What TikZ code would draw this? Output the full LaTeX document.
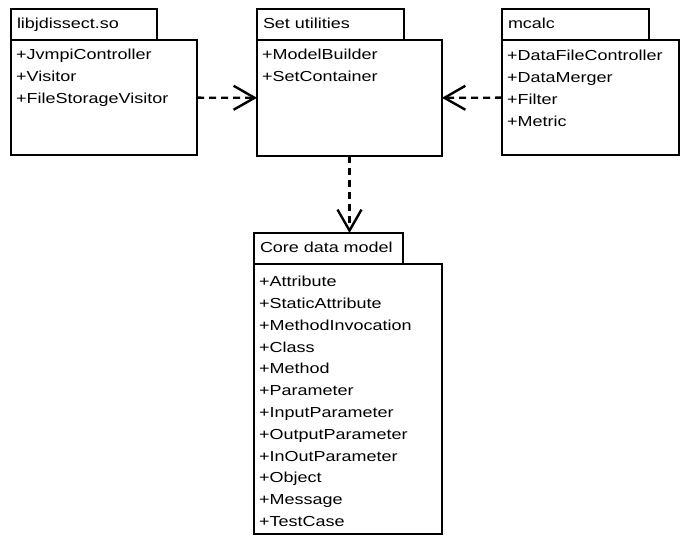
\documentclass[tikz,border=0pt]{standalone}
\usepackage{fontspec}
\setmainfont[FakeStretch=1.24]{Liberation Sans}
\usetikzlibrary{positioning,arrows.meta}
\tikzstyle{pkgTab}=[draw,line width=2.4pt,rectangle,anchor=north west,outer sep=0pt,inner xsep=6pt,inner ysep=0pt,minimum height=31pt,text height=10pt,text depth=3pt,align=left,font=\fontsize{14.5}{22}\selectfont]
\tikzstyle{pkgBody}=[draw,line width=2.4pt,rectangle,anchor=north west,outer sep=0pt,inner sep=0pt]
\tikzstyle{pkgItems}=[anchor=north west,inner sep=0pt,align=left,font=\fontsize{14.5}{21.8}\selectfont]
\tikzstyle{dependency}=[line width=2.4pt,dash pattern=on 7pt off 5pt,-{Straight Barb[length=21pt,width=24pt,line width=2.4pt]}]

\begin{document}
\begin{tikzpicture}[x=1pt,y=-1pt]
	\useasboundingbox (0,0) rectangle (680,536);

	% packages
	\node[pkgTab, text width=134pt] (libTab) at (11, 9) {libjdissect.so};
	\node[pkgBody, minimum width=186pt, minimum height=115pt] (libBody) at (libTab.south west) {};
	\node[pkgItems] (libItems) at ([shift={(5,9)}]libBody.north west) {+JvmpiController\\ +Visitor\\ +FileStorageVisitor};

	\node[pkgTab, text width=135pt] (setTab) at (257, 9) {Set utilities};
	\node[pkgBody, minimum width=185pt, minimum height=116pt] (setBody) at (setTab.south west) {};
	\node[pkgItems] (setItems) at ([shift={(5,9)}]setBody.north west) {+ModelBuilder\\ +SetContainer};

	\node[pkgTab, text width=135pt] (calcTab) at (502, 9) {mcalc};
	\node[pkgBody, minimum width=177pt, minimum height=115pt] (calcBody) at (calcTab.south west) {};
	\node[pkgItems] (calcItems) at ([shift={(5,10)}]calcBody.north west) {+DataFileController\\ +DataMerger\\ +Filter\\ +Metric};

	\node[pkgTab, text width=137pt] (coreTab) at (254, 233) {Core data model};
	\node[pkgBody, minimum width=188pt, minimum height=270pt] (coreBody) at (coreTab.south west) {};
	\node[pkgItems] (coreItems) at ([shift={(5,12)}]coreBody.north west) {+Attribute\\ +StaticAttribute\\ +MethodInvocation\\ +Class\\ +Method\\ +Parameter\\ +InputParameter\\ +OutputParameter\\ +InOutParameter\\ +Object\\ +Message\\ +TestCase};

	% dependencies
	\draw[dependency] (libBody) -- (setBody);
	\draw[dependency] (calcBody) -- (setBody);
	\draw[dependency] (setBody) -- (setBody |- coreTab.north);
\end{tikzpicture}
\end{document}
